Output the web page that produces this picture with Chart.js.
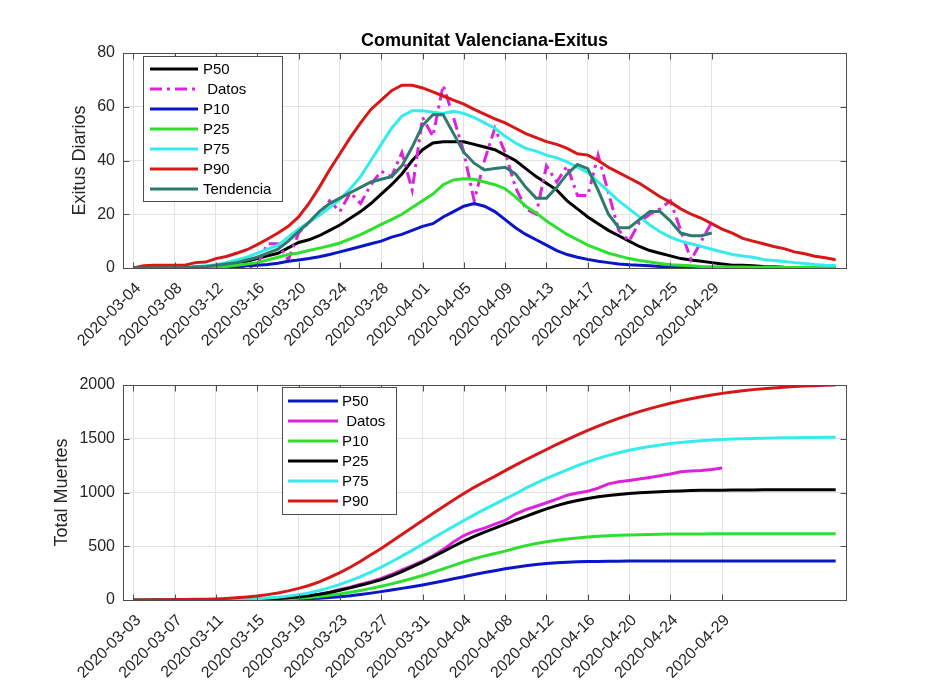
<!DOCTYPE html>
<html>
<head>
<meta charset="utf-8">
<script src="https://cdn.jsdelivr.net/npm/chart.js@4.4.1/dist/chart.umd.min.js"></script>
<style>
  html, body { margin: 0; padding: 0; background: #fff; }
  #wrap { position: relative; width: 934px; height: 700px; }
  .panel { position: absolute; left: 0; width: 934px; height: 350px; }
</style>
</head>
<body>
<div id="wrap">
  <div class="panel" style="top:0"><canvas id="dailyChart" width="934" height="350"></canvas></div>
  <div class="panel" style="top:350px"><canvas id="totalChart" width="934" height="350"></canvas></div>
</div>
<script>
// Upper panel: daily deaths, day 0 = 2020-03-04
const topTickDays = [0, 4, 8, 12, 16, 20, 24, 28, 32, 36, 40, 44, 48, 52, 56];
const topTickLabels = ['2020-03-04', '2020-03-08', '2020-03-12', '2020-03-16', '2020-03-20',
  '2020-03-24', '2020-03-28', '2020-04-01', '2020-04-05', '2020-04-09', '2020-04-13',
  '2020-04-17', '2020-04-21', '2020-04-25', '2020-04-29'];

const dailyP50 = [0, 0, 0, 0, 0, 0, 0.3, 0.5, 1, 1.5, 2, 2.5, 3.5, 4.5, 5.5,
  7.5, 9.5, 10.5, 12, 14, 16, 18.5, 21, 24, 27.5,
  31, 35, 40, 44, 46.5, 47, 47, 47, 46, 45,
  44, 42, 40, 37, 34, 31.5, 29, 25, 22, 19,
  16.5, 14, 12, 10, 8, 6.5, 5.5, 4.5, 3.5, 3,
  2.5, 2, 1.5, 1, 1, 0.8, 0.6, 0.5, 0.3, 0.2,
  0.1, 0, 0, 0];
const dailyDatos = [0, 0, 0, 0, 0, 0, 0, 0, 0, 1, 0, 0,
  1, 9, 9, 3, 13, 17, 20, 25, 21, 28,
  24, 31, 36, 34, 43, 29, 56, 49, 68, 56,
  43, 25, 40, 52, 43, 30, 22, 20, 38, 32,
  38, 27, 27, 42, 28, 14, 10, 17, 20, 22,
  25, 14, 3, 10, 17];
const dailyP10 = [0, 0, 0, 0, 0, 0, 0, 0, 0, 0.3, 0.5, 0.8, 1, 1.3, 1.8,
  2.5, 3, 3.5, 4.2, 5, 6, 7, 8, 9, 10,
  11.5, 12.5, 14, 15.5, 16.5, 19, 21, 23, 24, 23,
  21, 18, 15, 12.5, 10.5, 8.5, 6.5, 5, 4, 3.2,
  2.5, 2, 1.5, 1.2, 1, 0.8, 0.6, 0.5, 0.4, 0.3,
  0.2, 0.2, 0.1, 0.1, 0.1, 0, 0, 0, 0, 0, 0, 0, 0, 0];
const dailyP25 = [0, 0, 0, 0, 0, 0, 0, 0, 0.3, 0.6, 1, 1.5, 2, 3, 4,
  5, 5.6, 6.5, 7.4, 8.3, 9.3, 10.8, 12.4, 14.3, 16.2,
  18, 20, 22.5, 25, 27.5, 31, 32.8, 33.2, 33, 32,
  31, 29.5, 26.5, 23, 20.5, 17.5, 15, 12.5, 10.5, 8.5,
  7, 5.5, 4.5, 3.5, 2.8, 2.2, 1.7, 1.2, 1, 0.8,
  0.6, 0.5, 0.5, 0.4, 0.4, 0.3, 0.3, 0.3, 0.2, 0.2, 0.2, 0.2, 0.2, 0.2];
const dailyP75 = [0, 0, 0, 0, 0, 0.2, 0.5, 0.8, 1.2, 2, 3, 4, 5.5, 7, 8.5,
  11.5, 14.5, 17, 19.5, 22.5, 25.5, 29.5, 34, 40, 46,
  52, 56.5, 58.5, 58.5, 58, 57.5, 58.3, 57.5, 56, 54,
  52, 49, 46.5, 44.5, 43.5, 42, 41, 39.5, 37.5, 35.5,
  32, 28.5, 25, 22, 19, 16, 13.5, 11.5, 10, 9,
  8, 7, 6, 5, 4.5, 4, 3.2, 2.8, 2.4, 2,
  1.7, 1.3, 1, 0.9];
const dailyP90 = [0, 0.8, 1, 1, 1, 1, 2, 2.2, 3.5, 4.3,
  5.5, 6.8, 8.7, 10.8, 13, 15.5, 19, 24, 30, 36.5,
  42.5, 48.5, 54, 59, 62.5, 66, 68, 68, 67, 65.5,
  64, 62.5, 61, 59, 57.3, 55.5, 54, 52, 50, 48.5,
  47, 46, 44.5, 42.5, 42, 40, 37.5, 35.5, 33.5, 31.5,
  29, 26.5, 24.5, 22, 20, 18.5, 16.5, 14.5, 13, 11,
  10, 9, 8, 7.2, 6, 5.3, 4.4, 3.8, 3.1];
const dailyTrend = [0, 0, 0, 0, 0, 0, 0.5, 0.5, 1, 1.5,
  2, 3, 4, 5.5, 7, 10, 13.5, 17, 21, 24,
  26, 28, 30, 32, 33, 34, 38, 45, 53, 57,
  57, 50, 43, 39, 36.5, 37, 37.5, 35, 30, 26,
  26, 30, 35, 38.5, 37, 29, 20, 15, 15, 18,
  21, 21, 17.5, 13, 12, 12, 13];

// Lower panel: cumulative deaths, day 0 = 2020-03-03
const bottomTickDays = [0, 4, 8, 12, 16, 20, 24, 28, 32, 36, 40, 44, 48, 52, 57];
const bottomTickLabels = ['2020-03-03', '2020-03-07', '2020-03-11', '2020-03-15', '2020-03-19',
  '2020-03-23', '2020-03-27', '2020-03-31', '2020-04-04', '2020-04-08', '2020-04-12',
  '2020-04-16', '2020-04-20', '2020-04-24', '2020-04-29'];

const totalBlue = [0, 0, 0, 0, 0, 0, 0, 0, 0, 0.5, 1,
  1, 1.5, 2.5, 3.5, 5.5, 8, 12, 17, 23, 31,
  40, 52, 64, 78, 93, 108, 124, 140, 158, 177,
  197, 217, 237, 256, 273, 290, 305, 318, 330, 339,
  346, 351, 355, 357, 359, 360, 361, 362, 362, 362,
  362, 362, 362, 362, 363, 363, 363, 363, 363, 363,
  363, 363, 363, 363, 363, 363, 363, 363];
const totalDatos = [0, 0, 0, 0, 0, 0, 0, 0, 0, 1,
  1, 1, 1, 2, 10, 19, 22, 35, 52, 72,
  97, 118, 146, 170, 201, 237, 280, 320, 362, 412,
  470, 540, 600, 640, 668, 705, 740, 800, 840, 872,
  905, 938, 975, 995, 1012, 1040, 1080, 1100, 1112, 1125,
  1140, 1155, 1172, 1192, 1200, 1205, 1215, 1228];
const totalGreen = [0, 0, 0, 0, 0, 0, 0, 0, 0, 1, 1,
  2, 3, 5, 7, 11, 17, 24, 33, 44, 57,
  72, 89, 108, 128, 150, 174, 200, 228, 258, 290,
  322, 354, 384, 410, 432, 455, 482, 506, 526, 542,
  555, 567, 577, 585, 592, 597, 602, 605, 608, 610,
  612, 613, 614, 615, 615, 616, 616, 616, 616, 617,
  617, 617, 617, 617, 617, 617, 617, 617];
const totalBlack = [0, 0, 0, 0, 0, 0, 0, 0, 1, 1, 2,
  3, 5, 8, 13, 20, 29, 40, 53, 70, 90,
  113, 137, 162, 190, 225, 265, 308, 352, 400, 450,
  500, 548, 592, 632, 668, 705, 742, 778, 814, 848,
  878, 904, 926, 945, 960, 972, 982, 990, 997, 1003,
  1008, 1012, 1015, 1018, 1020, 1021, 1022, 1023, 1024, 1024,
  1025, 1025, 1025, 1026, 1026, 1026, 1026, 1026];
const totalCyan = [0, 0, 0, 0, 0, 0, 0, 1, 2, 3, 5,
  8, 12, 18, 26, 36, 50, 66, 88, 115, 145,
  180, 218, 260, 306, 356, 408, 462, 518, 574, 630,
  685, 740, 792, 843, 892, 940, 988, 1040, 1088, 1132,
  1172, 1210, 1250, 1285, 1317, 1345, 1370, 1393, 1412, 1428,
  1442, 1455, 1466, 1475, 1482, 1488, 1493, 1497, 1500, 1503,
  1505, 1507, 1509, 1510, 1511, 1512, 1513, 1513];
const totalRed = [0, 1, 2, 3, 4, 5, 6, 8, 10, 14, 20,
  28, 37, 50, 65, 85, 108, 135, 168, 210, 255,
  305, 360, 420, 480, 545, 610, 675, 740, 805, 868,
  930, 990, 1048, 1100, 1150, 1203, 1255, 1305, 1353, 1400,
  1447, 1492, 1535, 1578, 1617, 1654, 1690, 1722, 1752, 1780,
  1806, 1830, 1852, 1872, 1890, 1907, 1922, 1935, 1947, 1957,
  1966, 1973, 1980, 1985, 1990, 1994, 1997, 2000];

const FONT = '"Liberation Sans", Arial, Helvetica, sans-serif';
const INK = '#262626';
const C_BLACK = '#000000', C_MAG = '#dd22dd', C_BLUE = '#0b16c8', C_GREEN = '#2ee02e',
      C_CYAN = '#35ecec', C_RED = '#d81818', C_TEAL = '#2e7a6c';

function toPoints(values) {
  return values.map((v, i) => ({ x: i, y: v }));
}

// axes box, inward ticks, titles and legend, drawn the MATLAB way
const matlabLook = {
  id: 'matlabLook',
  afterDatasetsDraw(chart) {
    const { ctx, chartArea: a, scales: { x, y } } = chart;
    const L = Math.round(a.left) + 0.5, R = Math.round(a.right) + 0.5;
    const T = Math.round(a.top) + 0.5, B = Math.round(a.bottom) + 0.5;
    ctx.save();
    ctx.strokeStyle = '#4d4d4d';
    ctx.lineWidth = 1;
    ctx.strokeRect(L, T, R - L, B - T);
    ctx.beginPath();
    x.ticks.forEach(t => {
      const px = Math.round(x.getPixelForValue(t.value)) + 0.5;
      ctx.moveTo(px, T); ctx.lineTo(px, T + 6);
      ctx.moveTo(px, B); ctx.lineTo(px, B - 6);
    });
    y.ticks.forEach(t => {
      const py = Math.round(y.getPixelForValue(t.value)) + 0.5;
      ctx.moveTo(L, py); ctx.lineTo(L + 6, py);
      ctx.moveTo(R, py); ctx.lineTo(R - 6, py);
    });
    ctx.stroke();
    ctx.restore();
  },
  afterDraw(chart, args, opts) {
    const { ctx, chartArea: a } = chart;
    ctx.save();
    if (opts.title) {
      ctx.fillStyle = '#000';
      ctx.font = 'bold 18px ' + FONT;
      ctx.textAlign = 'center';
      ctx.textBaseline = 'middle';
      ctx.fillText(opts.title, (a.left + a.right) / 2, opts.titleY);
    }
    ctx.fillStyle = INK;
    ctx.font = '18px ' + FONT;
    ctx.textAlign = 'center';
    ctx.textBaseline = 'middle';
    ctx.translate(opts.yTitleX, (a.top + a.bottom) / 2);
    ctx.rotate(-Math.PI / 2);
    ctx.fillText(opts.yTitle, 0, 0);
    ctx.setTransform(1, 0, 0, 1, 0, 0);

    const lg = opts.legend;
    ctx.fillStyle = '#fff';
    ctx.fillRect(lg.x, lg.y, lg.w, lg.h);
    ctx.strokeStyle = '#4d4d4d';
    ctx.lineWidth = 1;
    ctx.strokeRect(lg.x + 0.5, lg.y + 0.5, lg.w, lg.h);
    ctx.font = '15px ' + FONT;
    ctx.textAlign = 'left';
    ctx.textBaseline = 'middle';
    chart.data.datasets.forEach((ds, i) => {
      const ry = lg.y + lg.firstRow + i * lg.step;
      ctx.strokeStyle = ds.borderColor;
      ctx.lineWidth = 3;
      ctx.setLineDash(ds.borderDash || []);
      ctx.beginPath();
      ctx.moveTo(lg.x + lg.lineFrom, ry);
      ctx.lineTo(lg.x + lg.lineTo, ry);
      ctx.stroke();
      ctx.setLineDash([]);
      ctx.fillStyle = '#000';
      ctx.fillText(ds.label, lg.x + lg.textX, ry + 1);
    });
    ctx.restore();
  }
};

function buildChart(canvasId, cfg) {
  const n = cfg.series.length;
  const datasets = cfg.series.map((s, i) => ({
    label: s.label,
    data: toPoints(s.values),
    borderColor: s.color,
    borderWidth: 3,
    borderDash: s.dash || [],
    pointRadius: 0,
    tension: 0,
    fill: false,
    order: n - i
  }));
  return new Chart(document.getElementById(canvasId), {
    type: 'line',
    data: { datasets },
    options: {
      responsive: false,
      animation: false,
      devicePixelRatio: 1,
      layout: { padding: { left: 0, right: 88, top: cfg.plotTop, bottom: 0 } },
      plugins: {
        legend: { display: false },
        tooltip: { enabled: false },
        matlabLook: cfg.look
      },
      scales: {
        x: {
          type: 'linear',
          min: -1,
          max: 69,
          afterBuildTicks: scale => { scale.ticks = cfg.tickDays.map(v => ({ value: v })); },
          afterFit: scale => { scale.height = cfg.xAxisHeight; },
          ticks: {
            autoSkip: false,
            minRotation: 45,
            maxRotation: 45,
            padding: 11,
            labelOffset: 5,
            color: INK,
            font: { family: FONT, size: 16 },
            callback: (v, i) => cfg.tickLabels[i]
          },
          grid: { color: '#e2e2e2', drawTicks: false },
          border: { display: false }
        },
        y: {
          min: 0,
          max: cfg.yMax,
          afterFit: scale => { scale.width = 123; },
          ticks: {
            stepSize: cfg.yStep,
            padding: 8,
            color: INK,
            font: { family: FONT, size: 16 },
            callback: v => String(v)
          },
          grid: { color: '#e2e2e2', drawTicks: false },
          border: { display: false }
        }
      }
    },
    plugins: [matlabLook]
  });
}

buildChart('dailyChart', {
  plotTop: 53,
  xAxisHeight: 82,
  yMax: 80,
  yStep: 20,
  tickDays: topTickDays,
  tickLabels: topTickLabels,
  series: [
    { label: 'P50', values: dailyP50, color: C_BLACK },
    { label: ' Datos', values: dailyDatos, color: C_MAG, dash: [12, 5, 3, 5] },
    { label: 'P10', values: dailyP10, color: C_BLUE },
    { label: 'P25', values: dailyP25, color: C_GREEN },
    { label: 'P75', values: dailyP75, color: C_CYAN },
    { label: 'P90', values: dailyP90, color: C_RED },
    { label: 'Tendencia', values: dailyTrend, color: C_TEAL }
  ],
  look: {
    title: 'Comunitat Valenciana-Exitus',
    titleY: 41,
    yTitle: 'Exitus Diarios',
    yTitleX: 80,
    legend: { x: 143, y: 56, w: 139, h: 145, firstRow: 13, step: 20, lineFrom: 7, lineTo: 55, textX: 60 }
  }
});

buildChart('totalChart', {
  plotTop: 35,
  xAxisHeight: 100,
  yMax: 2000,
  yStep: 500,
  tickDays: bottomTickDays,
  tickLabels: bottomTickLabels,
  series: [
    { label: 'P50', values: totalBlue, color: C_BLUE },
    { label: ' Datos', values: totalDatos, color: C_MAG },
    { label: 'P10', values: totalGreen, color: C_GREEN },
    { label: 'P25', values: totalBlack, color: C_BLACK },
    { label: 'P75', values: totalCyan, color: C_CYAN },
    { label: 'P90', values: totalRed, color: C_RED }
  ],
  look: {
    yTitle: 'Total Muertes',
    yTitleX: 62,
    legend: { x: 282, y: 37, w: 114, h: 127, firstRow: 14, step: 20, lineFrom: 6, lineTo: 56, textX: 60 }
  }
});
</script>
</body>
</html>
